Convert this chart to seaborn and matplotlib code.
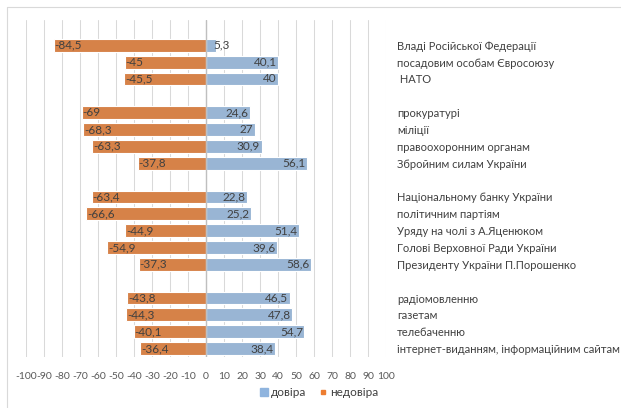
import pandas as pd
import numpy as np
import seaborn as sns
import matplotlib.pyplot as plt
from matplotlib.lines import Line2D

# data (top to bottom)
labels = [
    "Владі Російської Федерації",
    "посадовим особам Євросоюзу",
    " НАТО",
    "прокуратурі",
    "міліції",
    "правоохоронним органам",
    "Збройним силам України",
    "Національному банку України",
    "політичним партіям",
    "Уряду на чолі з А.Яценюком",
    "Голові Верховної Ради України",
    "Президенту України П.Порошенко",
    "радіомовленню",
    "газетам",
    "телебаченню",
    "інтернет-виданням, інформаційним сайтам",
]
trust = [5.3, 40.1, 40, 24.6, 27, 30.9, 56.1, 22.8, 25.2, 51.4, 39.6, 58.6, 46.5, 47.8, 54.7, 38.4]
distrust = [-84.5, -45, -45.5, -69, -68.3, -63.3, -37.8, -63.4, -66.6, -44.9, -54.9, -37.3, -43.8, -44.3, -40.1, -36.4]
groups = [3, 4, 5, 4]

# category order with empty slots between groups
order = ["_b0"]
i = 0
for k, g in enumerate(groups):
    if k > 0:
        order.append("_b%d" % k)
    order.extend(labels[i:i + g])
    i += g

df = pd.DataFrame({
    "label": labels * 2,
    "value": trust + distrust,
    "series": ["довіра"] * len(labels) + ["недовіра"] * len(labels),
})

blue = "#8FB4DE"
orange = "#ED7D31"
txt = "#404040"

sns.set_style("white")
plt.rcParams["font.family"] = ["Lato", "DejaVu Sans"]

fig = plt.figure(figsize=(6.21, 4.08), dpi=100)
ax = fig.add_axes([26 / 621, 1 - 357 / 408, 360 / 621, 337 / 408])

sns.barplot(data=df, x="value", y="label", hue="series", order=order,
            palette={"довіра": blue, "недовіра": orange}, dodge=False,
            width=0.76, edgecolor="white", linewidth=0.8, legend=False, ax=ax)

ax.set_xlim(-100, 100)
ax.set_xticks(np.arange(-100, 101, 10))
ax.set_xticklabels([str(t) for t in range(-100, 101, 10)], fontsize=7.5, color="#595959")
ax.grid(axis="x", color="#D9D9D9", linewidth=0.75)
ax.set_axisbelow(True)
ax.axvline(0, color="#BFBFBF", linewidth=1, zorder=1.5)
for s in ax.spines.values():
    s.set_visible(False)
ax.set_xlabel("")
ax.set_ylabel("")
ax.tick_params(axis="x", length=0, pad=11)

# category labels on the right
ax.yaxis.tick_right()
ax.set_yticks(range(len(order)))
ax.set_yticklabels(["" if o.startswith("_b") else o for o in order], fontsize=8.0, color=txt)
ax.tick_params(axis="y", length=0, pad=8)

# value labels
fs = 8.5
fmt = lambda v: ("%g" % v).replace(".", ",")
for lab, t, d in zip(labels, trust, distrust):
    y = order.index(lab)
    if t < 10:
        ax.text(t - 1.5, y, fmt(t), ha="left", va="center", fontsize=fs, color=txt)
    else:
        ax.text(t - 0.8, y, fmt(t), ha="right", va="center", fontsize=fs, color=txt)
    ax.text(d + 0.4, y, fmt(d), ha="left", va="center", fontsize=fs, color=txt)

# legend
handles = [Line2D([], [], marker="s", linestyle="", color=blue, markersize=5.5),
           Line2D([], [], marker="s", linestyle="", color=orange, markersize=3.2)]
fig.legend(handles, ["довіра", "недовіра"], loc="center", bbox_to_anchor=(319 / 621, 1 - 393 / 408),
           ncol=2, frameon=False, fontsize=8.5, handletextpad=0.2, columnspacing=1.0,
           labelcolor=txt, handlelength=0.8)

# chart border (top and left visible)
fig.add_artist(Line2D([7 / 621, 1], [1 - 7 / 408, 1 - 7 / 408], color="#D9D9D9", linewidth=0.8))
fig.add_artist(Line2D([7 / 621, 7 / 621], [0, 1 - 7 / 408], color="#D9D9D9", linewidth=0.8))

fig.savefig("out.png", dpi=100)
